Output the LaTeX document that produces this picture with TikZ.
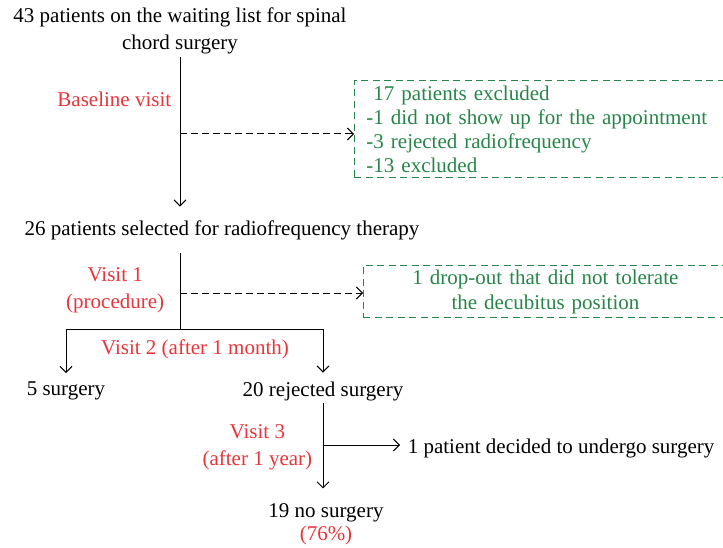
\documentclass[tikz,border=0pt]{standalone}
\usepackage{fontspec}
\setmainfont{Liberation Serif}
\usetikzlibrary{positioning,calc,arrows.meta}
\definecolor{visitred}{RGB}{232,52,58}
\definecolor{exclgreen}{RGB}{38,133,72}
\tikzset{>={Straight Barb[length=6pt,width=12pt]}}
\tikzset{visit/.style={text=visitred,align=center},
	excl/.style={draw=exclgreen,text=exclgreen,line width=0.9pt,dash pattern=on 7pt off 4.5pt},
	dasharrow/.style={->,dash pattern=on 6.5pt off 4.5pt}}

\begin{document}
\begin{tikzpicture}[x=1pt,y=-1pt,font=\fontsize{21}{27}\selectfont,line width=1pt]
		\useasboundingbox (0,0) rectangle (723,548);
		% patient flow
		\node[align=center] (start) at (180,31) {43 patients on the waiting list for spinal\\chord surgery};
		\node (sel) at (222,230) {26 patients selected for radiofrequency therapy};
		\node (surg) at (66,391) {5 surgery};
		\node (rej) at (323,391) {20 rejected surgery};
		\node[align=center,font=\fontsize{21}{23}\selectfont] (nosurg) at (326,524) {19 no surgery\\\textcolor{visitred}{(76\%)}};
		\node[anchor=west] (undergo) at (404,448) {1 patient decided to undergo surgery};
		% excluded boxes
		\node[excl,anchor=north west,minimum width=380,minimum height=97,text width=360,inner xsep=12,align=left,font=\fontsize{21}{24}\selectfont] (excl) at (354,80) {\hspace{7pt}17 patients excluded\\-1 did not show up for the appointment\\-3 rejected radiofrequency\\-13 excluded};
		\node[excl,anchor=north west,minimum width=364,minimum height=52,text width=364,inner xsep=0,align=center,font=\fontsize{21}{25}\selectfont] (drop) at (363,265) {1 drop-out that did not tolerate\\the decubitus position};
		% visits
		\node[visit,anchor=east] (base) at (175,99) {Baseline visit};
		\node[visit,anchor=east] (v1) at (168,290) {Visit 1\\(procedure)};
		\node[visit] (v2) at (195,349) {Visit 2 (after 1 month)};
		\node[visit,anchor=east] (v3) at (316,447) {Visit 3\\(after 1 year)};
		% connectors
		\coordinate (b0) at (180,134);
		\coordinate (b1) at (180,293);
		\coordinate (split) at (180,329);
		\coordinate (b3) at (323,445);
		\draw[->,shorten <=-1pt,shorten >=10pt] (start.south) -- (start.south |- sel.north);
		\draw[dasharrow] (b0) -- (b0 -| excl.west);
		\draw[shorten <=10pt] (sel.south -| start) -- (split);
		\draw[dasharrow] (b1) -- (b1 -| drop.west);
		\draw[->,shorten >=5pt] (split) -| (surg.north);
		\draw[->,shorten >=5pt] (split) -| (rej.north);
		\draw[->,shorten <=-1pt,shorten >=11pt] (rej.south) -- (rej.south |- nosurg.north);
		\draw[->,shorten >=4pt] (b3) -- (b3 -| undergo.west);
	\end{tikzpicture}
\end{document}
